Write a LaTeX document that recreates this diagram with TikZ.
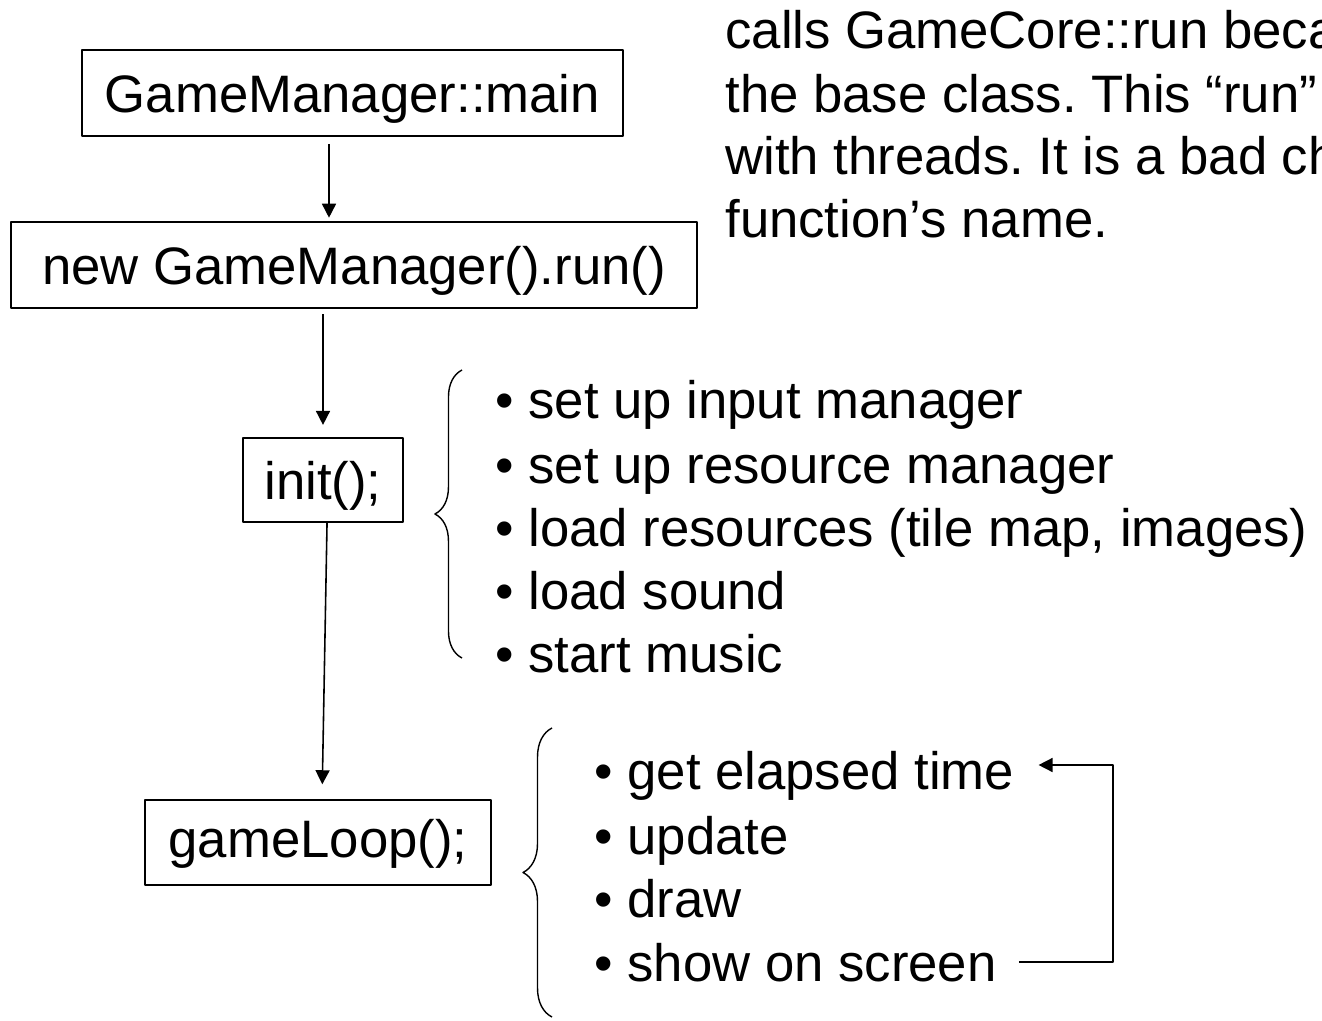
\documentclass[tikz,border=0pt]{standalone}
\usepackage{fontspec}
\setmainfont{Liberation Sans}
\usetikzlibrary{calc}
\usetikzlibrary{arrows.meta,positioning}
\usetikzlibrary{decorations.pathreplacing}
\frenchspacing

\begin{document}
\begin{tikzpicture}[
  x=0.02cm,
  y=-0.02cm,
  line join=round,
  >={Triangle[length=8pt,width=8pt]},
  every node/.style={font=\fontsize{30}{36}\selectfont},
  callbox/.style={draw=black,line width=0.9pt,inner sep=0pt},
  flow/.style={draw=black,line width=0.9pt,->},
  item/.style={anchor=base west,inner sep=0pt},
  bracket/.style={draw=black,line width=0.8pt,decorate,decoration={brace,amplitude=#1}}
]
\useasboundingbox (0,0) rectangle (1322,1021);

% Call chain on the left
\node[callbox,minimum width=10.82cm,minimum height=1.72cm,text depth=0pt] (main) at (352.5,93)
  {GameManager::main};
\node[callbox,minimum width=13.72cm,minimum height=1.72cm,text depth=0pt] (run) at (354,265)
  {new GameManager().run()};
\node[callbox,minimum width=3.2cm,minimum height=1.68cm,text depth=0pt] (init) at (323,480)
  {init();};
\node[callbox,minimum width=6.92cm,minimum height=1.7cm,text depth=0.44em] (gameloop) at (318,842.5)
  {gameLoop();};

\coordinate (a1) at (329,0);
\coordinate (a2) at (323,0);
\draw[flow,shorten <=4pt,shorten >=2pt] (main.south -| a1) -- (run.north -| a1);
\draw[flow,shorten <=3pt,shorten >=7pt] (run.south -| a2) -- (init.north -| a2);
\draw[flow,shorten >=8.5pt] ([xshift=2.3pt]init.south) -- ([xshift=2.3pt]gameloop.north);

% Note at the top right
\node[item] (note1) at (725,49) {calls GameCore::run beca};
\node[item] (note2) at (725,112) {the base class. This “run”};
\node[item] (note3) at (725,174) {with threads. It is a bad ch};
\node[item] (note4) at (725,237) {function’s name.};

% What init() does
\draw[bracket=15.4pt] (462,658) -- (462,370);
\node[item] (in1) at (495,418) {• set up input manager};
\node[item] (in2) at (495,483) {• set up resource manager};
\node[item] (in3) at (495,546) {• load resources (tile map, images)};
\node[item] (in4) at (495,609) {• load sound};
\node[item] (in5) at (495,672) {• start music};

% What gameLoop() does
\draw[bracket=16.5pt] (552,1017) -- (552,728);
\node[item] (lp1) at (594,789) {• get elapsed time};
\node[item] (lp2) at (594,854) {• update};
\node[item] (lp3) at (594,917) {• draw};
\node[item] (lp4) at (594,981) {• show on screen};

% loop back
\coordinate (loopR) at (1113,0);
\draw[flow] ($(lp4.base east)+(22,-19)$) -- ($(lp4.base east -| loopR)+(0,-19)$)
  |- ($(lp1.base east)+(24,-24)$);

\end{tikzpicture}
\end{document}
